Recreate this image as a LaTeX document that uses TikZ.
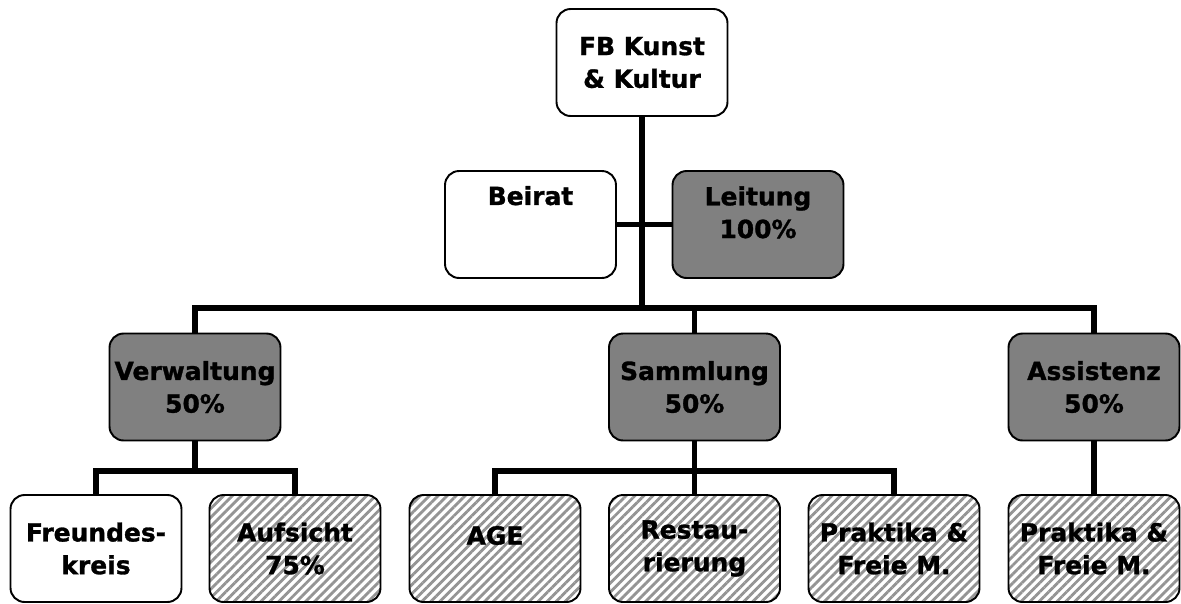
\documentclass[tikz,border=0pt]{standalone}
\usepackage{fontspec}
\setmainfont{DejaVu Sans}
\newfontfamily\boxfont{DejaVu Sans Bold}[FakeBold=1.2]
\usetikzlibrary{patterns.meta}

\begin{document}
\begin{tikzpicture}[x=0.02cm,y=-0.02cm,
  box/.style={draw,line width=1.1pt,rounded corners=8pt,minimum width=3.42cm,
    minimum height=2.14cm,inner sep=0pt,align=center,
    font=\fontsize{14.2}{18.6}\boxfont},
  dark/.style={box,fill=black!50},
  hatch/.style={box,pattern={Lines[angle=45,distance=3.6pt,line width=1.6pt]},
    pattern color=black!42},
  upper/.style={text depth=#1},
  conn/.style={line width=3.4pt}]
\useasboundingbox (0,0) rectangle (1181,603);
% top levels
\node[box] (fb) at (642,62.5) {FB Kunst\\\& Kultur};
\node[box,upper=33pt] (beirat) at (530.5,224.5) {Beirat};
\node[dark,upper=14pt] (leitung) at (758,224.5) {Leitung\\100\%};
\node[dark] (verw) at (195,387) {Verwaltung\\50\%};
\node[dark] (samml) at (694.5,387) {Sammlung\\50\%};
\node[dark] (asst) at (1094,387) {Assistenz\\50\%};
% bottom row
\node[box] (freund) at (96,548.5) {Freundes-\\kreis};
\node[hatch] (aufs) at (295,548.5) {Aufsicht\\75\%};
\node[hatch,upper=15pt] (age) at (495,548.5) {AGE};
\node[hatch] (resta) at (694.5,548.5) {Restau-\\rierung};
\node[hatch] (prak1) at (894,548.5) {Praktika \&\\Freie M.};
\node[hatch] (prak2) at (1094,548.5) {Praktika \&\\Freie M.};
% connectors
\coordinate (bus) at (642,308);
\coordinate (vsplit) at (195,471);
\coordinate (ssplit) at (694.5,471);
\draw[conn] (fb) -- (bus);
\draw[conn] (beirat) -- (leitung);
\draw[conn] (verw.north) |- (bus) -| (asst.north);
\draw[conn] (samml.north) -- (samml.north |- bus);
\draw[conn] (verw.south) -- (vsplit);
\draw[conn] (freund.north) |- (vsplit) -| (aufs.north);
\draw[conn] (samml.south) -- (ssplit);
\draw[conn] (age.north) |- (ssplit) -| (prak1.north);
\draw[conn] (resta.north) -- (ssplit);
\draw[conn] (asst) -- (prak2);
\end{tikzpicture}
\end{document}
